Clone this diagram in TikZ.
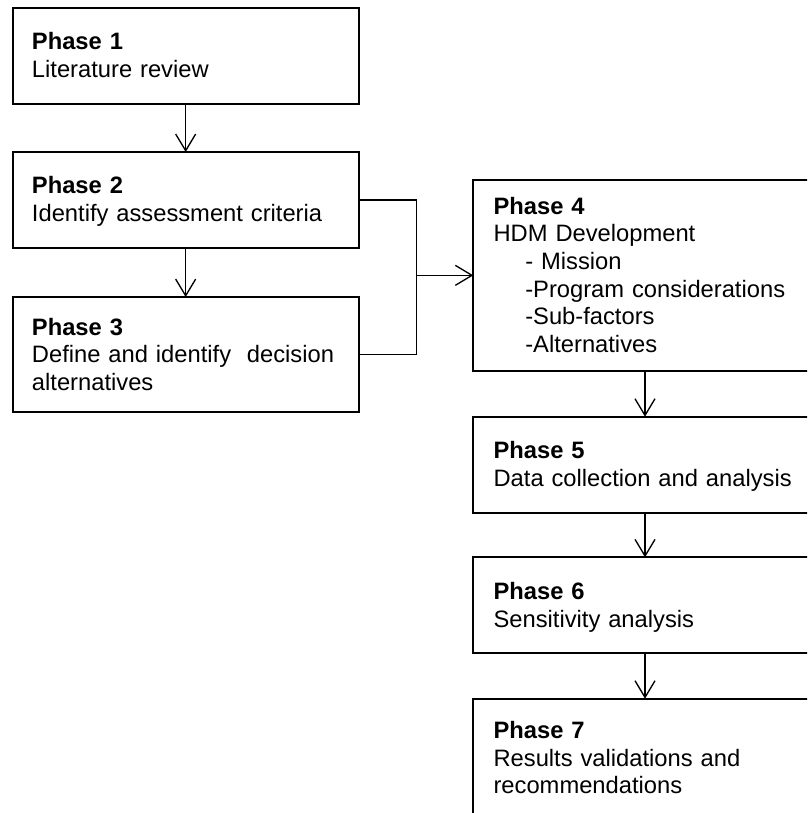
\documentclass[tikz,border=0pt]{standalone}
\usepackage{fontspec}
\setmainfont{Liberation Sans}
\usetikzlibrary{arrows.meta}
\tikzset{
  box/.style={draw, line width=1.5pt, rectangle, inner sep=0pt, outer sep=0pt},
  txt/.style={anchor=base west, inner sep=0pt, text width=250pt, align=left,
    font=\fontsize{17.8}{20.8}\selectfont},
  conn/.style={line width=1pt},
  arr/.style={conn, -{Straight Barb[length=12.5pt,width=15pt,line width=1pt]}}
}
\newcommand{\ind}{\hspace*{23.8pt}}
\begin{document}
\begin{tikzpicture}[x=0.75pt,y=-0.75pt]
\useasboundingbox (0,0) rectangle (807,813);
\clip (0,0) rectangle (807,813);
\fill[white] (0,0) rectangle (807,813);
% boxes
\node[box, minimum width=259.6pt, minimum height=71.8pt] (p1) at (185.65,56.15) {};
\node[box, minimum width=259.6pt, minimum height=72pt] (p2) at (185.65,200) {};
\node[box, minimum width=259.6pt, minimum height=86pt] (p3) at (185.65,354.35) {};
\node[box, minimum width=257.6pt, minimum height=143pt] (p4) at (645,275.35) {};
\node[box, minimum width=257.6pt, minimum height=72pt] (p5) at (645,464.7) {};
\node[box, minimum width=257.6pt, minimum height=71.5pt] (p6) at (645,605) {};
\node[box, minimum width=257.6pt, minimum height=98.5pt] (p7) at (645,764.35) {};
% texts
\node[txt] (t1) at (31.7,50) {\textbf{Phase 1}\\Literature review};
\node[txt] (t2) at (31.7,193.3) {\textbf{Phase 2}\\Identify assessment criteria};
\node[txt] (t3) at (31.7,335) {\textbf{Phase 3}\\Define and identify\ \ decision\\alternatives};
\node[txt] (t4) at (493.3,214) {\textbf{Phase 4}\\HDM Development\\\ind- Mission\\\ind-Program considerations\\\ind-Sub-factors\\\ind-Alternatives};
\node[txt] (t5) at (493.3,458.3) {\textbf{Phase 5}\\Data collection and analysis};
\node[txt] (t6) at (493.3,599.3) {\textbf{Phase 6}\\Sensitivity analysis};
\node[txt] (t7) at (493.3,738.3) {\textbf{Phase 7}\\Results validations and\\recommendations};
% connectors
\coordinate (j) at (416.7,275.35);
\draw[arr] (p1) -- (p2);
\draw[arr] (p2) -- (p3);
\draw[conn] (p2.east) -| (j);
\draw[conn] (p3.east) -| (j);
\draw[arr] (j) -- (p4.west);
\draw[arr] (p4) -- (p5);
\draw[arr] (p5) -- (p6);
\draw[arr] (p6) -- (p7);
\end{tikzpicture}
\end{document}
